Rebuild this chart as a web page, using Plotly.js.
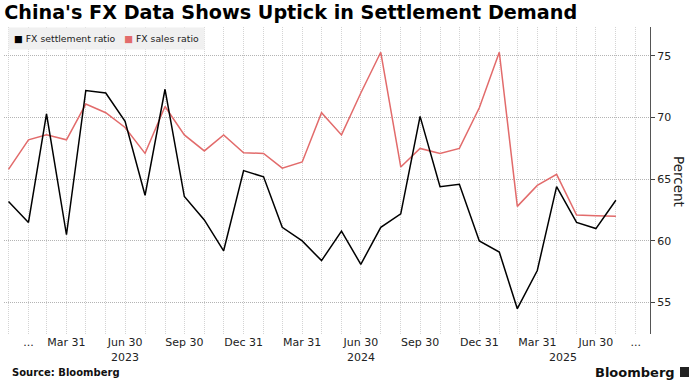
<!DOCTYPE html>
<html>
<head>
<meta charset="utf-8">
<script src="https://cdn.plot.ly/plotly-3.0.1.min.js"></script>
<style>html,body{margin:0;padding:0;background:#fff;}#chart{width:695px;height:386px;}</style>
</head>
<body>
<div id="chart"></div>
<script>
// ---- data ----
var months = ["2022-12-31","2023-01-31","2023-02-28","2023-03-31","2023-04-30","2023-05-31","2023-06-30","2023-07-31","2023-08-31","2023-09-30","2023-10-31","2023-11-30",
              "2023-12-31","2024-01-31","2024-02-29","2024-03-31","2024-04-30","2024-05-31","2024-06-30","2024-07-31","2024-08-31","2024-09-30","2024-10-31","2024-11-30",
              "2024-12-31","2025-01-31","2025-02-28","2025-03-31","2025-04-30","2025-05-31","2025-06-30","2025-07-31"];
var settlementRatio = [63.2, 61.5, 70.3, 60.5, 72.2, 72.0, 69.7, 63.7, 72.3, 63.6, 61.7, 59.2,
                       65.7, 65.2, 61.1, 60.0, 58.4, 60.8, 58.1, 61.1, 62.2, 70.1, 64.4, 64.6,
                       60.0, 59.1, 54.5, 57.6, 64.4, 61.5, 61.0, 63.3];
var salesRatio = [65.8, 68.2, 68.6, 68.2, 71.1, 70.4, 69.2, 67.1, 70.9, 68.6, 67.3, 68.6,
                  67.15, 67.1, 65.9, 66.4, 70.4, 68.6, 72.0, 75.3, 66.0, 67.5, 67.1, 67.5,
                  70.8, 75.3, 62.8, 64.5, 65.4, 62.1, 62.05, 62.0];
var tickDates = ["2023-01-31","2023-03-31","2023-06-30","2023-09-30","2023-12-31","2024-03-31","2024-06-30","2024-09-30","2024-12-31","2025-03-31","2025-06-30","2025-08-31"];
var tickLabels = ["...","Mar 31","Jun 30","Sep 30","Dec 31","Mar 31","Jun 30","Sep 30","Dec 31","Mar 31","Jun 30","..."];
var yearLabels = ["2023","2024","2025"];
var yearDates = ["2023-06-30","2024-06-30","2025-05-10"];
var yTicks = [55, 60, 65, 70, 75];
var seriesNames = ["FX settlement ratio","FX sales ratio"];

var RED = "#e26b6b";

// monthly gridlines (month ends) for the axis
function monthEnds(y0, m0, count){
  var out = [];
  for (var i = 0; i < count; i++){
    var d = new Date(Date.UTC(y0, m0 + i + 1, 0));
    out.push(d.toISOString().slice(0,10));
  }
  return out;
}
var gridMonths = monthEnds(2022, 11, 33);

var traces = [
  {x: months, y: salesRatio, name: seriesNames[1], type: "scatter", mode: "lines",
   line: {color: RED, width: 1.5}, showlegend: false, hoverinfo: "x+y"},
  {x: months, y: settlementRatio, name: seriesNames[0], type: "scatter", mode: "lines",
   line: {color: "#000000", width: 1.5}, showlegend: false, hoverinfo: "x+y"}
];

var W = 695, H = 386, L = 4, R = 650, T = 27, B = 334;
function px(v){ return (v - L) / (R - L); }
function py(v){ return (B - v) / (B - T); }

var annotations = [
  {xref: "paper", yref: "paper", x: px(8), y: 1, xanchor: "left", yanchor: "top", showarrow: false,
   bgcolor: "#f0f0f0", borderpad: 5,
   text: '<span style="color:#000">■</span> ' + seriesNames[0] + '   <span style="color:' + RED + '">■</span> ' + seriesNames[1],
   font: {family: "DejaVu Sans", size: 9.3, color: "#222"}},
  {xref: "paper", yref: "paper", x: px(679), y: py(181), xanchor: "center", yanchor: "middle", showarrow: false,
   textangle: 90, text: "Percent", font: {family: "DejaVu Sans", size: 13.5, color: "#222"}},
  {xref: "paper", yref: "paper", x: px(10), y: py(372), xanchor: "left", yanchor: "middle", showarrow: false,
   text: "<b>Source: Bloomberg</b>", font: {family: "DejaVu Sans", size: 10, color: "#111"}},
  {xref: "paper", yref: "paper", x: px(677), y: py(372), xanchor: "right", yanchor: "middle", showarrow: false,
   text: "<b>Bloomberg</b>", font: {family: "DejaVu Sans", size: 13, color: "#111"}}
];
for (var i = 0; i < yearLabels.length; i++){
  annotations.push({xref: "x", yref: "paper", x: yearDates[i], y: py(357), xanchor: "center", yanchor: "middle",
    showarrow: false, text: yearLabels[i], font: {family: "DejaVu Sans", size: 11, color: "#222"}});
}

var layout = {
  width: W, height: H,
  margin: {l: L, r: W - R, t: T, b: H - B, pad: 0},
  paper_bgcolor: "#ffffff", plot_bgcolor: "#ffffff",
  font: {family: "DejaVu Sans", size: 11, color: "#222"},
  title: {text: "<b>China's FX Data Shows Uptick in Settlement Demand</b>",
          font: {family: "DejaVu Sans", size: 19.2, color: "#000"},
          xref: "container", yref: "container", x: 0.006, xanchor: "left", y: 1 - 12.5 / H, yanchor: "middle"},
  showlegend: false,
  xaxis: {type: "date", range: ["2022-12-24", "2025-09-22"],
          tickmode: "array", tickvals: tickDates, ticktext: tickLabels,
          ticks: "", showline: false, zeroline: false,
          showgrid: true, gridcolor: "#d4d4d4", griddash: "1px,1px", gridwidth: 1,
          minor: {tickmode: "array", tickvals: gridMonths, showgrid: true, gridcolor: "#d4d4d4", griddash: "1px,1px", gridwidth: 1, ticks: ""},
          tickfont: {family: "DejaVu Sans", size: 11, color: "#222"}, fixedrange: true},
  yaxis: {side: "right", range: [52.45, 77.35], tickmode: "array", tickvals: yTicks,
          ticks: "outside", ticklen: 4, tickcolor: "#444", tickwidth: 1,
          showline: true, linecolor: "#555", linewidth: 1, zeroline: false,
          showgrid: true, gridcolor: "#b4b4b4", griddash: "1px,1px", gridwidth: 1,
          tickfont: {family: "DejaVu Sans", size: 11, color: "#222"}, fixedrange: true},
  annotations: annotations,
  shapes: [
    {type: "rect", xref: "paper", yref: "paper", x0: px(680), x1: px(689), y0: py(377), y1: py(367),
     fillcolor: "#222", line: {width: 0}}
  ]
};

Plotly.newPlot("chart", traces, layout, {displayModeBar: false, staticPlot: true});
</script>
</body>
</html>
